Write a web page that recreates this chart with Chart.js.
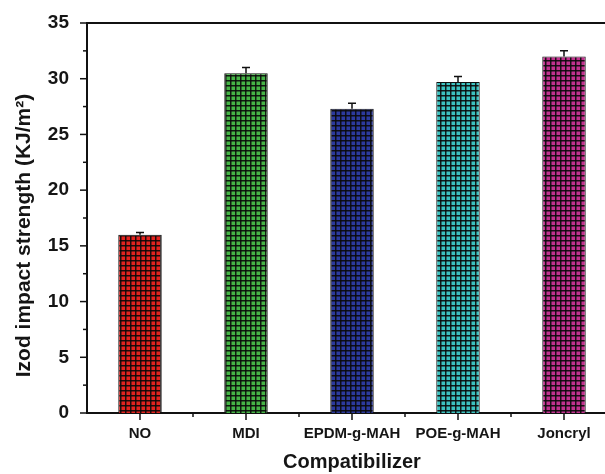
<!DOCTYPE html>
<html>
<head>
<meta charset="utf-8">
<script src="https://cdn.jsdelivr.net/npm/chart.js@4.4.0/dist/chart.umd.min.js"></script>
<style>
  html, body { margin: 0; padding: 0; background: #fff; overflow: hidden; }
  #wrap { width: 605px; height: 474px; overflow: hidden; position: relative; }
  canvas { display: block; }
</style>
</head>
<body>
<div id="wrap"><canvas id="chart" width="620" height="474"></canvas></div>
<script>
// Data
const categories = ['NO', 'MDI', 'EPDM-g-MAH', 'POE-g-MAH', 'Joncryl'];
const impactStrength = [16.0, 30.5, 27.3, 29.7, 32.0];
const errors = [0.2, 0.5, 0.5, 0.5, 0.5];
const barColors = ['#e3231f', '#46b446', '#2c3a9e', '#3cc2c0', '#c2328f'];

// Grid-style fill like the original hatch
function makeGridPattern(color) {
    const c = document.createElement('canvas');
    c.width = 5;
    c.height = 5;
    const g = c.getContext('2d');
    g.fillStyle = color;
    g.fillRect(0, 0, 5, 5);
    g.fillStyle = 'rgba(10,10,10,0.9)';
    g.fillRect(0, 0, 5, 1.5);
    g.fillRect(0, 0, 1.5, 5);
    return g.createPattern(c, 'repeat');
}

// Error bars, frame top line and tick marks
const extrasPlugin = {
    id: 'extras',
    afterDatasetsDraw(chart) {
        const ctx = chart.ctx;
        const x = chart.scales.x;
        const y = chart.scales.y;
        const area = chart.chartArea;
        ctx.save();
        ctx.strokeStyle = '#111';
        ctx.lineWidth = 1.5;
        impactStrength.forEach((v, i) => {
            const px = x.getPixelForValue(i);
            const top = y.getPixelForValue(v + errors[i]);
            const base = y.getPixelForValue(v);
            ctx.beginPath();
            ctx.moveTo(px, base);
            ctx.lineTo(px, top);
            ctx.moveTo(px - 4, top);
            ctx.lineTo(px + 4, top);
            ctx.stroke();
        });

        // top frame line
        ctx.lineWidth = 2;
        ctx.beginPath();
        ctx.moveTo(area.left, area.top);
        ctx.lineTo(area.right, area.top);
        ctx.stroke();

        // y ticks: majors every 5, minors every 2.5
        ctx.lineWidth = 1.5;
        y.ticks.forEach(t => {
            const py = y.getPixelForValue(t.value);
            const len = t.value % 5 === 0 ? 7 : 4;
            ctx.beginPath();
            ctx.moveTo(area.left, py);
            ctx.lineTo(area.left - len, py);
            ctx.stroke();
        });

        // x ticks: majors under bars, minors between categories
        categories.forEach((c, i) => {
            const px = x.getPixelForValue(i);
            ctx.beginPath();
            ctx.moveTo(px, area.bottom);
            ctx.lineTo(px, area.bottom + 7);
            ctx.stroke();
            if (i > 0) {
                const mx = (px + x.getPixelForValue(i - 1)) / 2;
                ctx.beginPath();
                ctx.moveTo(mx, area.bottom);
                ctx.lineTo(mx, area.bottom + 4);
                ctx.stroke();
            }
        });
        ctx.restore();
    }
};

const ctx = document.getElementById('chart').getContext('2d');
new Chart(ctx, {
    type: 'bar',
    data: {
        labels: categories,
        datasets: [{
            data: impactStrength,
            backgroundColor: barColors.map(makeGridPattern),
            borderColor: '#111',
            borderWidth: 1,
            barPercentage: 0.41,
            categoryPercentage: 1
        }]
    },
    options: {
        responsive: false,
        animation: false,
        layout: { padding: { top: 23, right: 3, left: 0, bottom: 0 } },
        plugins: {
            legend: { display: false },
            tooltip: { enabled: false }
        },
        scales: {
            x: {
                grid: { display: false },
                border: { color: '#111', width: 2 },
                ticks: {
                    color: '#151515',
                    font: { family: 'Liberation Sans, Arial', size: 15, weight: 'bold' },
                    padding: 4,
                    autoSkip: false,
                    maxRotation: 0
                },
                title: {
                    display: true,
                    text: 'Compatibilizer',
                    color: '#151515',
                    font: { family: 'Liberation Sans, Arial', size: 20, weight: 'bold' },
                    padding: { top: 16, bottom: 0 }
                },
                afterFit(scale) { scale.height = 61; }
            },
            y: {
                min: 0,
                max: 35,
                grid: { display: false },
                border: { color: '#111', width: 2 },
                ticks: {
                    stepSize: 2.5,
                    color: '#151515',
                    font: { family: 'Liberation Sans, Arial', size: 19, weight: 'bold' },
                    padding: 10,
                    callback: v => (v % 5 === 0 ? v : '')
                },
                title: {
                    display: true,
                    text: 'Izod impact strength (KJ/m\u00B2)      ',
                    color: '#151515',
                    font: { family: 'Liberation Sans, Arial', size: 21, weight: 'bold' },
                    padding: { top: 12, bottom: 0 }
                },
                afterFit(scale) { scale.width = 87; }
            }
        }
    },
    plugins: [extrasPlugin]
});
</script>
</body>
</html>
